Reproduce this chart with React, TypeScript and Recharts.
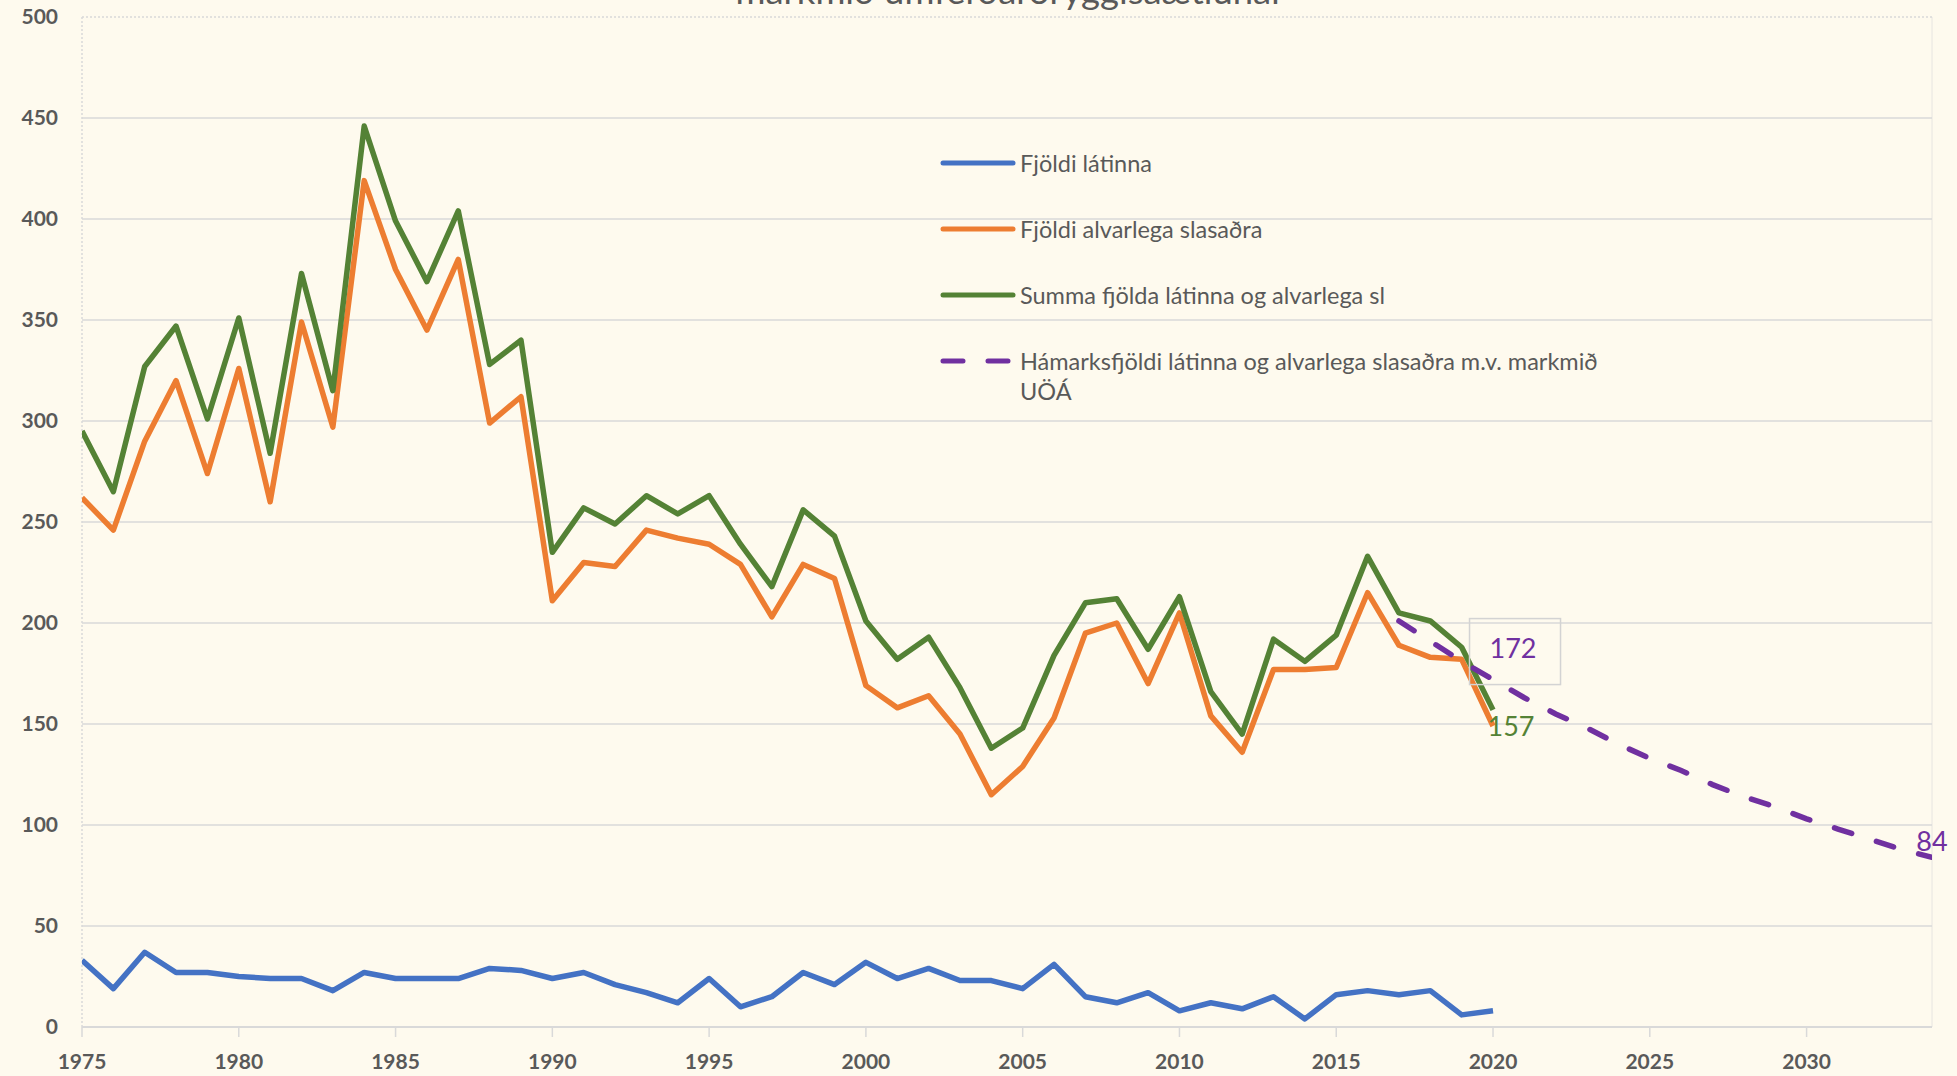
import { LineChart, Line, XAxis, YAxis, ReferenceLine } from "recharts";

const W = 1957;
const H = 1076;
const BG = "#FEFAEE";
const GRAY = "#595959";
const GRID = "#D9D9D9";
const FONT = "Lato, 'Open Sans', sans-serif";

// years on the x axis
const years = Array.from({ length: 60 }, (_, i) => 1975 + i);
const xTicks = [1975, 1980, 1985, 1990, 1995, 2000, 2005, 2010, 2015, 2020, 2025, 2030];
const yTicks = [0, 50, 100, 150, 200, 250, 300, 350, 400, 450, 500];
const gridValues = [50, 100, 150, 200, 250, 300, 350, 400, 450];

// 1975 - 2020
const latinna = [
  33, 19, 37, 27, 27, 25, 24, 24, 18, 27, 24, 24, 24, 29, 28, 24, 27, 21, 17, 12, 24, 10, 15,
  27, 21, 32, 24, 29, 23, 23, 19, 31, 15, 12, 17, 8, 12, 9, 15, 4, 16, 18, 16, 18, 6, 8,
];
const alvarlega = [
  262, 246, 290, 320, 274, 326, 260, 349, 297, 419, 375, 345, 380, 299, 312, 211, 230, 228,
  246, 242, 239, 229, 203, 229, 222, 169, 158, 164, 145, 115, 129, 153, 195, 200, 170, 205,
  154, 136, 177, 177, 178, 215, 189, 183, 182, 149,
];
const summa = [
  295, 265, 327, 347, 301, 351, 284, 373, 315, 446, 399, 369, 404, 328, 340, 235, 257, 249,
  263, 254, 263, 239, 218, 256, 243, 201, 182, 193, 168, 138, 148, 184, 210, 212, 187, 213,
  166, 145, 192, 181, 194, 233, 205, 201, 188, 157,
];
// 2017 - 2034
const hamarksStart = 2017;
const hamarks = [201, 191, 181, 172, 163, 155, 148, 140, 133, 127, 120, 114, 109, 103, 98, 93, 88, 84];

const series = [
  { key: "latinna", name: "Fjöldi látinna", color: "#4472C4", dash: false },
  { key: "alvarlega", name: "Fjöldi alvarlega slasaðra", color: "#ED7D31", dash: false },
  { key: "summa", name: "Summa fjölda látinna og alvarlega sl", color: "#548235", dash: false },
  {
    key: "hamarks",
    name: "Hámarksfjöldi látinna og alvarlega slasaðra m.v. markmið UÖÁ",
    color: "#7030A0",
    dash: true,
  },
];

const rows = years.map((year, i) => ({
  year,
  latinna: latinna[i],
  alvarlega: alvarlega[i],
  summa: summa[i],
  hamarks: year >= hamarksStart ? hamarks[year - hamarksStart] : undefined,
}));

function SummaLabel(props: any) {
  const { x, y, index, value } = props;
  if (rows[index]?.year !== 2020 || value == null) return <g />;
  return (
    <text x={x + 18} y={y + 26} textAnchor="middle" fill="#548235" fontSize={27} fontFamily={FONT}>
      {value}
    </text>
  );
}

function HamarksLabel(props: any) {
  const { x, y, index, value } = props;
  const yr = rows[index]?.year;
  if (yr === 2020) {
    return (
      <g>
        <rect x={x - 23.5} y={y - 61} width={91} height={66} fill="none" stroke="#D3D3D3" strokeWidth={1.5} />
        <text x={x + 20} y={y - 22} textAnchor="middle" fill="#7030A0" fontSize={27} fontFamily={FONT}>
          {value}
        </text>
      </g>
    );
  }
  if (yr === 2034) {
    return (
      <text x={x} y={y - 6} textAnchor="middle" fill="#7030A0" fontSize={27} fontFamily={FONT}>
        {value}
      </text>
    );
  }
  return <g />;
}

function LegendBox() {
  return (
    <div
      style={{
        position: "absolute",
        left: 940,
        top: 148,
        width: 720,
        fontFamily: FONT,
        fontSize: 23.5,
        color: GRAY,
        lineHeight: "30px",
      }}
    >
      {series.map((s) => (
        <div key={s.key} style={{ display: "flex", alignItems: "flex-start", marginBottom: 36 }}>
          <svg width={76} height={30} style={{ flex: "none" }}>
            <line
              x1={3}
              x2={73}
              y1={15}
              y2={15}
              stroke={s.color}
              strokeWidth={5}
              strokeLinecap="round"
              strokeDasharray={s.dash ? "20 25" : undefined}
            />
          </svg>
          <span style={{ marginLeft: 4, maxWidth: 612 }}>{s.name}</span>
        </div>
      ))}
    </div>
  );
}

export default function App() {
  return (
    <div style={{ position: "absolute", left: 0, top: 0, width: W, height: H, background: BG, overflow: "hidden" }}>
      <svg width={W} height={H} style={{ position: "absolute", left: 0, top: 0 }}>
        <text
          x={1010}
          y={4}
          textAnchor="middle"
          fill={GRAY}
          fontSize={34}
          fontFamily={FONT}
          textLength={549}
          lengthAdjust="spacingAndGlyphs"
        >
          markmið umferðaröryggisáætlunar
        </text>
      </svg>
      <div style={{ position: "absolute", left: 0, top: 0 }}>
        <LineChart width={W} height={H} data={rows} margin={{ top: 17, right: 25, bottom: 0, left: 0 }}>
          <XAxis
            dataKey="year"
            type="number"
            domain={[1975, 2034]}
            ticks={xTicks}
            allowDataOverflow
            height={49}
            axisLine={{ stroke: GRID, strokeWidth: 2 }}
            tickLine={{ stroke: GRID, strokeWidth: 1.5 }}
            tickSize={10}
            tickMargin={17}
            tick={{ fill: GRAY, fontSize: 21, fontWeight: 700, fontFamily: FONT }}
          />
          <YAxis
            type="number"
            domain={[0, 500]}
            ticks={yTicks}
            width={82}
            axisLine={false}
            tickLine={false}
            tickSize={0}
            tickMargin={24}
            tick={{ fill: GRAY, fontSize: 21, fontWeight: 700, fontFamily: FONT }}
          />
          {gridValues.map((v) => (
            <ReferenceLine key={v} y={v} stroke={GRID} strokeWidth={1.5} />
          ))}
          <ReferenceLine y={500} stroke={GRID} strokeWidth={1.5} strokeDasharray="2 2" />
          <ReferenceLine x={1975} stroke={GRID} strokeWidth={1.5} strokeDasharray="2 2" />
          <ReferenceLine x={2034} stroke={GRID} strokeWidth={1} strokeOpacity={0.6} />
          <Line
            dataKey="latinna"
            name={series[0].name}
            stroke={series[0].color}
            strokeWidth={5.5}
            dot={false}
            activeDot={false}
            strokeLinejoin="round"
            isAnimationActive={false}
          />
          <Line
            dataKey="alvarlega"
            name={series[1].name}
            stroke={series[1].color}
            strokeWidth={5.5}
            dot={false}
            activeDot={false}
            strokeLinejoin="round"
            isAnimationActive={false}
          />
          <Line
            dataKey="summa"
            name={series[2].name}
            stroke={series[2].color}
            strokeWidth={5.5}
            dot={false}
            activeDot={false}
            strokeLinejoin="round"
            label={SummaLabel}
            isAnimationActive={false}
          />
          <Line
            dataKey="hamarks"
            name={series[3].name}
            stroke={series[3].color}
            strokeWidth={5.5}
            strokeDasharray="18 26"
            strokeLinecap="round"
            dot={false}
            activeDot={false}
            label={HamarksLabel}
            isAnimationActive={false}
          />
        </LineChart>
      </div>
      <LegendBox />
    </div>
  );
}
